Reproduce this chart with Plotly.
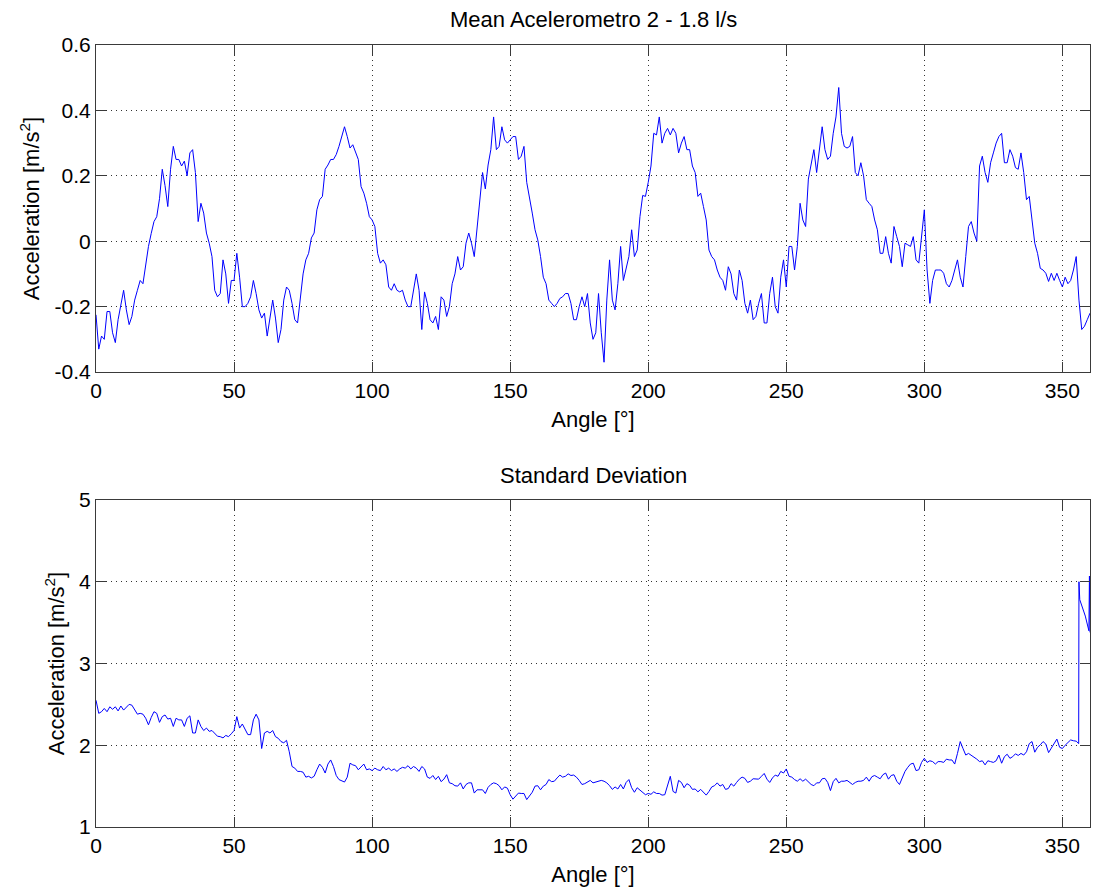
import plotly.graph_objects as go

# ---------------- data ----------------
mean_angle = list(range(0, 361))
mean_accel = [
    -0.225, -0.33, -0.29, -0.30, -0.215, -0.215, -0.28, -0.31, -0.24, -0.19,
    -0.15, -0.21, -0.255, -0.23, -0.18, -0.15, -0.12, -0.13, -0.07, -0.016,
    0.024, 0.06, 0.075, 0.13, 0.22, 0.17, 0.106, 0.22, 0.29, 0.25,
    0.25, 0.23, 0.245, 0.20, 0.27, 0.28, 0.21, 0.06, 0.116, 0.086,
    0.025, -0.006, -0.047, -0.15, -0.17, -0.16, -0.057, -0.10, -0.19, -0.12,
    -0.12, -0.037, -0.11, -0.20, -0.20, -0.19, -0.17, -0.12, -0.16, -0.21,
    -0.235, -0.22, -0.29, -0.23, -0.18, -0.235, -0.31, -0.27, -0.18, -0.14,
    -0.15, -0.19, -0.24, -0.25, -0.17, -0.10, -0.057, -0.037, 0.01, 0.025,
    0.096, 0.127, 0.137, 0.22, 0.233, 0.25, 0.25, 0.265, 0.29, 0.32,
    0.35, 0.32, 0.285, 0.295, 0.27, 0.25, 0.167, 0.147, 0.116, 0.075,
    0.065, 0.045, -0.037, -0.067, -0.057, -0.072, -0.14, -0.15, -0.13, -0.15,
    -0.155, -0.15, -0.18, -0.20, -0.20, -0.145, -0.10, -0.15, -0.27, -0.155,
    -0.19, -0.24, -0.25, -0.23, -0.27, -0.17, -0.18, -0.23, -0.20, -0.13,
    -0.10, -0.047, -0.088, -0.078, -0.006, 0.025, -0.006, -0.047, 0.035, 0.116,
    0.21, 0.16, 0.233, 0.28, 0.38, 0.28, 0.29, 0.35, 0.31, 0.30,
    0.31, 0.32, 0.32, 0.25, 0.26, 0.29, 0.18, 0.137, 0.086, 0.035,
    0.004, -0.047, -0.11, -0.13, -0.18, -0.19, -0.20, -0.19, -0.175, -0.17,
    -0.16, -0.16, -0.19, -0.24, -0.24, -0.20, -0.17, -0.20, -0.16, -0.25,
    -0.30, -0.28, -0.16, -0.28, -0.37, -0.18, -0.057, -0.18, -0.21, -0.13,
    -0.016, -0.12, -0.078, -0.047, 0.035, -0.047, -0.027, 0.075, 0.14, 0.137,
    0.18, 0.23, 0.33, 0.325, 0.38, 0.30, 0.33, 0.345, 0.325, 0.345,
    0.33, 0.27, 0.30, 0.32, 0.28, 0.28, 0.23, 0.21, 0.137, 0.147,
    0.106, 0.065, -0.027, -0.047, -0.057, -0.088, -0.11, -0.12, -0.15, -0.078,
    -0.10, -0.16, -0.18, -0.088, -0.12, -0.19, -0.22, -0.18, -0.24, -0.23,
    -0.19, -0.16, -0.25, -0.25, -0.16, -0.11, -0.20, -0.22, -0.11, -0.057,
    -0.14, -0.016, -0.016, -0.088, -0.016, 0.116, 0.065, 0.045, 0.19, 0.24,
    0.28, 0.21, 0.28, 0.35, 0.28, 0.25, 0.26, 0.33, 0.38, 0.47,
    0.33, 0.29, 0.285, 0.29, 0.32, 0.21, 0.20, 0.24, 0.20, 0.127,
    0.116, 0.106, 0.065, 0.035, -0.037, -0.037, 0.014, -0.037, -0.067, 0.045,
    0.014, -0.016, -0.078, -0.006, -0.011, -0.016, 0.014, -0.057, -0.067, 0.025,
    0.096, -0.088, -0.19, -0.12, -0.088, -0.088, -0.088, -0.098, -0.13, -0.14,
    -0.12, -0.088, -0.057, -0.11, -0.14, -0.047, 0.045, 0.06, 0.025, 0.0,
    0.23, 0.26, 0.21, 0.18, 0.24, 0.27, 0.30, 0.32, 0.33, 0.24,
    0.24, 0.28, 0.26, 0.225, 0.22, 0.27, 0.21, 0.127, 0.137, 0.065,
    -0.006, -0.037, -0.083, -0.088, -0.098, -0.123, -0.098, -0.12, -0.098, -0.12,
    -0.14, -0.11, -0.13, -0.12, -0.088, -0.047, -0.18, -0.27, -0.26, -0.24,
    -0.22,
]

std_angle = list(range(0, 356)) + [355.9, 356.0, 356.3, 356.8, 357.3, 357.8,
                                   358.3, 358.8, 359.3, 359.6, 359.8, 360.0]
std_accel = [
    2.55, 2.39, 2.41, 2.45, 2.41, 2.47, 2.44, 2.47, 2.42, 2.48,
    2.43, 2.46, 2.50, 2.49, 2.44, 2.38, 2.39, 2.38, 2.33, 2.25,
    2.34, 2.41, 2.39, 2.28, 2.35, 2.37, 2.32, 2.33, 2.23, 2.33,
    2.31, 2.31, 2.23, 2.33, 2.36, 2.15, 2.15, 2.31, 2.23, 2.18,
    2.21, 2.17, 2.18, 2.14, 2.11, 2.105, 2.09, 2.12, 2.105, 2.14,
    2.18, 2.35, 2.21, 2.26, 2.19, 2.13, 2.13, 2.31, 2.38, 2.31,
    1.96, 2.15, 2.17, 2.15, 2.18, 2.105, 2.085, 2.045, 2.03, 2.06,
    1.92, 1.74, 1.72, 1.68, 1.68, 1.67, 1.61, 1.62, 1.60, 1.62,
    1.70, 1.77, 1.73, 1.66, 1.77, 1.82, 1.74, 1.63, 1.58, 1.56,
    1.55, 1.61, 1.78, 1.76, 1.75, 1.70, 1.73, 1.77, 1.70, 1.71,
    1.69, 1.72, 1.70, 1.69, 1.74, 1.70, 1.72, 1.69, 1.71, 1.68,
    1.71, 1.73, 1.72, 1.75, 1.71, 1.74, 1.72, 1.68, 1.74, 1.71,
    1.61, 1.595, 1.63, 1.58, 1.62, 1.555, 1.585, 1.64, 1.54, 1.53,
    1.505, 1.50, 1.54, 1.465, 1.52, 1.54, 1.54, 1.415, 1.455, 1.455,
    1.455, 1.41, 1.485, 1.52, 1.54, 1.53, 1.505, 1.455, 1.49, 1.475,
    1.395, 1.34, 1.375, 1.415, 1.41, 1.41, 1.335, 1.385, 1.425, 1.50,
    1.505, 1.455, 1.50, 1.52, 1.58, 1.555, 1.56, 1.60, 1.635, 1.61,
    1.62, 1.65, 1.63, 1.635, 1.61, 1.57, 1.52, 1.53, 1.545, 1.57,
    1.54, 1.55, 1.56, 1.57, 1.56, 1.54, 1.505, 1.46, 1.49, 1.465,
    1.52, 1.465, 1.545, 1.58, 1.48, 1.425, 1.48, 1.45, 1.415, 1.395,
    1.41, 1.40, 1.43, 1.41, 1.41, 1.39, 1.395, 1.50, 1.62, 1.435,
    1.415, 1.57, 1.545, 1.48, 1.53, 1.51, 1.46, 1.465, 1.43, 1.46,
    1.43, 1.39, 1.435, 1.49, 1.505, 1.54, 1.50, 1.52, 1.46, 1.47,
    1.53, 1.50, 1.545, 1.585, 1.61, 1.595, 1.545, 1.56, 1.59, 1.585,
    1.585, 1.62, 1.655, 1.585, 1.545, 1.60, 1.635, 1.62, 1.68, 1.66,
    1.71, 1.62, 1.61, 1.58, 1.56, 1.59, 1.56, 1.585, 1.55, 1.52,
    1.505, 1.54, 1.54, 1.59, 1.595, 1.545, 1.445, 1.555, 1.595, 1.54,
    1.56, 1.56, 1.57, 1.54, 1.52, 1.545, 1.56, 1.56, 1.57, 1.61,
    1.56, 1.615, 1.63, 1.61, 1.59, 1.64, 1.66, 1.585, 1.63, 1.64,
    1.56, 1.52, 1.61, 1.68, 1.73, 1.77, 1.78, 1.69, 1.70, 1.79,
    1.84, 1.79, 1.81, 1.80, 1.77, 1.80, 1.80, 1.79, 1.83, 1.82,
    1.82, 1.77, 1.90, 2.045, 1.96, 1.88, 1.90, 1.88, 1.86, 1.83,
    1.80, 1.81, 1.76, 1.81, 1.80, 1.79, 1.81, 1.88, 1.78, 1.86,
    1.89, 1.84, 1.86, 1.895, 1.875, 1.90, 1.88, 1.92, 2.02, 2.045,
    1.915, 1.975, 2.005, 2.045, 2.015, 1.91, 1.965, 2.025, 2.075, 1.975,
    1.96, 2.00, 2.03, 2.065, 2.055, 2.05,
    2.02, 4.0, 3.78, 3.72, 3.68, 3.63, 3.58, 3.5, 3.44, 3.4, 4.07, 3.38,
]

x_ticks = [0, 50, 100, 150, 200, 250, 300, 350]
mean_ticks = [-0.4, -0.2, 0, 0.2, 0.4, 0.6]
mean_ticktext = ["-0.4", "-0.2", "0", "0.2", "0.4", "0.6"]
std_ticks = [1, 2, 3, 4, 5]

title_top = "Mean Acelerometro 2 - 1.8 l/s"
title_bottom = "Standard Deviation"
x_label = "Angle [°]"
y_label = "Acceleration [m/s<sup>2</sup>]"

# ---------------- figure ----------------
FONT = "Liberation Sans, Arial, Helvetica, sans-serif"
AXC = "#3a3a3a"
LINE = "#0000ff"

fig = go.Figure()
fig.add_trace(go.Scatter(x=mean_angle, y=mean_accel, mode="lines",
                         line=dict(color=LINE, width=1), xaxis="x", yaxis="y",
                         showlegend=False, hoverinfo="skip"))
fig.add_trace(go.Scatter(x=std_angle, y=std_accel, mode="lines",
                         line=dict(color=LINE, width=1), xaxis="x2", yaxis="y2",
                         showlegend=False, hoverinfo="skip"))

common_axis = dict(
    showline=True, linecolor=AXC, linewidth=1, mirror="ticks",
    ticks="inside", ticklen=10, tickcolor=AXC, tickwidth=1,
    showgrid=True, gridcolor="#333333", gridwidth=1, griddash="1px,4px",
    zeroline=False, tickfont=dict(family=FONT, size=21, color="black"),
)

fig.update_layout(
    width=1095, height=891,
    margin=dict(l=96, r=5, t=45, b=64),
    paper_bgcolor="white", plot_bgcolor="white",
    font=dict(family=FONT, color="black"),
    xaxis=dict(common_axis, domain=[0, 1], anchor="y", range=[0, 360],
               tickvals=x_ticks,
               title=dict(text=x_label, font=dict(family=FONT, size=22), standoff=10)),
    yaxis=dict(common_axis, domain=[0.5818, 1], anchor="x", range=[-0.4, 0.6],
               tickvals=mean_ticks, ticktext=mean_ticktext,
               title=dict(text=y_label, font=dict(family=FONT, size=22), standoff=8)),
    xaxis2=dict(common_axis, domain=[0, 1], anchor="y2", range=[0, 360],
                tickvals=x_ticks,
                title=dict(text=x_label, font=dict(family=FONT, size=22), standoff=10)),
    yaxis2=dict(common_axis, domain=[0, 0.4182], anchor="x2", range=[1, 5],
                tickvals=std_ticks,
                title=dict(text=y_label, font=dict(family=FONT, size=22), standoff=8)),
    annotations=[
        dict(text=title_top, xref="x domain", yref="y domain", x=0.5, y=1,
             xanchor="center", yanchor="bottom", yshift=11, showarrow=False,
             font=dict(family=FONT, size=22, color="black")),
        dict(text=title_bottom, xref="x2 domain", yref="y2 domain", x=0.5, y=1,
             xanchor="center", yanchor="bottom", yshift=10, showarrow=False,
             font=dict(family=FONT, size=22, color="black")),
    ],
)

fig.write_html("out.html")
